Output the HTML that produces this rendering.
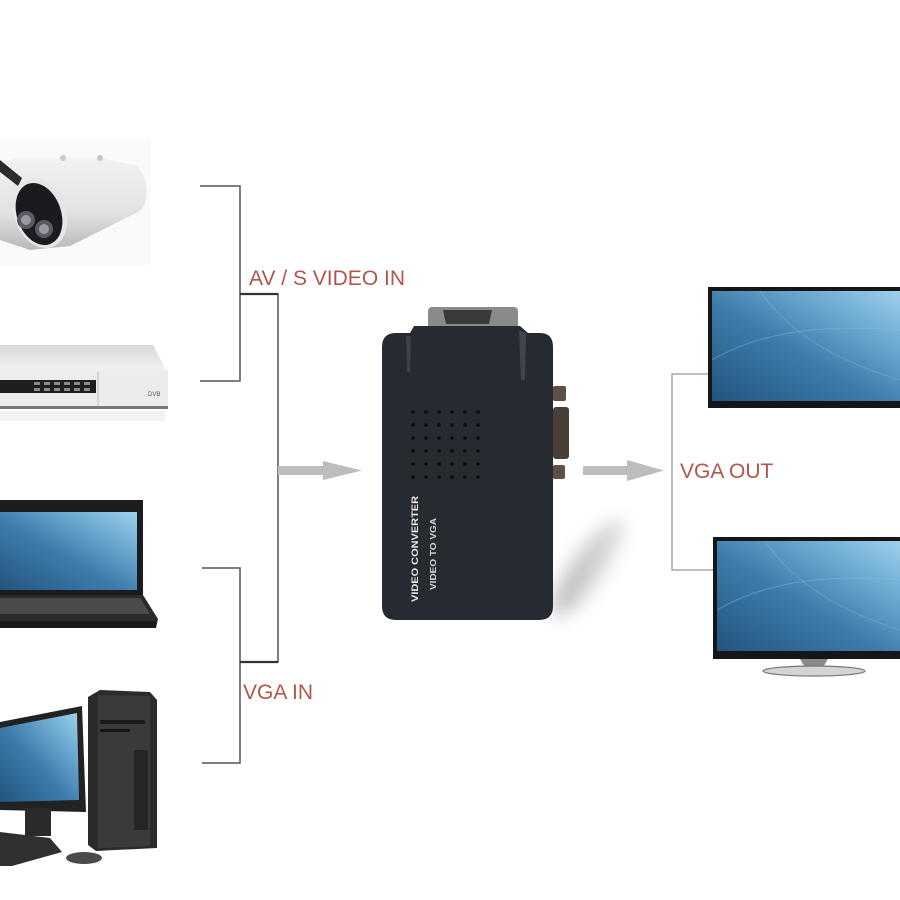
<!DOCTYPE html>
<html><head><meta charset="utf-8"><style>
html,body{margin:0;padding:0;background:#fff;}
svg{display:block;}
.lbl{font-family:"Liberation Sans",Arial,sans-serif;font-size:21px;fill:#b0564c;}
</style></head><body>
<svg width="900" height="900" viewBox="0 0 900 900" xmlns="http://www.w3.org/2000/svg">
<defs>
<linearGradient id="scr" x1="0" y1="1" x2="1" y2="0">
<stop offset="0" stop-color="#22557f"/>
<stop offset="0.45" stop-color="#3f7cab"/>
<stop offset="0.8" stop-color="#77b3d8"/>
<stop offset="1" stop-color="#9fd0ea"/>
</linearGradient>
<linearGradient id="cam" x1="0" y1="0" x2="0" y2="1">
<stop offset="0" stop-color="#f2f2f2"/>
<stop offset="0.6" stop-color="#e2e2e2"/>
<stop offset="1" stop-color="#b8b8b8"/>
</linearGradient>
<linearGradient id="dvd" x1="0" y1="0" x2="0" y2="1">
<stop offset="0" stop-color="#d8d8d8"/>
<stop offset="1" stop-color="#f0f0f0"/>
</linearGradient>
<linearGradient id="shd" x1="0" y1="1" x2="1" y2="0">
<stop offset="0" stop-color="#777"/>
<stop offset="1" stop-color="#ddd"/>
</linearGradient>
<filter id="blur" x="-80%" y="-50%" width="260%" height="200%"><feGaussianBlur stdDeviation="9"/></filter>
</defs>

<!-- Camera -->
<rect x="0" y="140" width="150" height="125" fill="#fafafa"/>
<path d="M0,162 L20,158 L100,158 L135,165 C150,175 150,205 138,212 L70,246 L30,250 L0,240 Z" fill="url(#cam)"/>
<path d="M0,160 L22,178 L18,186 L0,172 Z" fill="#2a2a2a"/>
<circle cx="63" cy="158" r="3" fill="#c8c8c8"/>
<circle cx="100" cy="158" r="3" fill="#c8c8c8"/>
<ellipse cx="40" cy="213" rx="26" ry="36" transform="rotate(-20 40 213)" fill="#e6e6e6"/>
<ellipse cx="39" cy="214" rx="22" ry="32" transform="rotate(-20 39 214)" fill="#1b1b1f"/>
<circle cx="26" cy="220" r="9" fill="#5a5a64"/>
<circle cx="26" cy="220" r="5" fill="#9a9aa5"/>
<circle cx="44" cy="229" r="9" fill="#5a5a64"/>
<circle cx="44" cy="229" r="5" fill="#9a9aa5"/>

<!-- DVD -->
<path d="M0,345 L153,345 L166,370 L0,370 Z" fill="url(#dvd)"/>
<rect x="0" y="370" width="168" height="37" fill="#ececec"/>
<rect x="0" y="380" width="96" height="13" fill="#1e1e1e"/>
<g fill="#8a8a8a">
<rect x="34" y="382" width="6" height="3"/><rect x="44" y="382" width="6" height="3"/><rect x="54" y="382" width="6" height="3"/><rect x="64" y="382" width="6" height="3"/><rect x="74" y="382" width="6" height="3"/><rect x="84" y="382" width="6" height="3"/>
<rect x="34" y="388" width="6" height="3"/><rect x="44" y="388" width="6" height="3"/><rect x="54" y="388" width="6" height="3"/><rect x="64" y="388" width="6" height="3"/><rect x="74" y="388" width="6" height="3"/><rect x="84" y="388" width="6" height="3"/>
</g>
<line x1="98" y1="372" x2="98" y2="406" stroke="#bbb" stroke-width="1"/>
<text x="148" y="396" font-family="Liberation Sans,sans-serif" font-size="6" fill="#555">DVB</text>
<rect x="0" y="406" width="168" height="3" fill="#7a7a7a"/>
<rect x="0" y="411" width="165" height="10" fill="#f2f2f2"/>

<!-- Laptop -->
<rect x="0" y="500" width="143" height="96" fill="#1c1c1e"/>
<rect x="0" y="512" width="137" height="78" fill="url(#scr)"/>
<path d="M0,595 L143,595 L158,619 L156,628 L0,628 Z" fill="#2b2b2d"/>
<path d="M0,598 L140,598 L150,614 L0,614 Z" fill="#4a4a4c"/>
<path d="M0,621 L156,621 L156,628 L0,628 Z" fill="#1a1a1a"/>

<!-- Desktop -->
<path d="M0,722 L82,706 L86,812 L0,810 Z" fill="#222"/>
<path d="M0,728 L77,713 L79,800 L0,802 Z" fill="url(#scr)"/>
<rect x="25" y="808" width="26" height="28" fill="#2a2a2a"/>
<path d="M88,697 L100,690 L150,692 L157,700 L157,848 L96,851 L88,845 Z" fill="#2b2b2d"/>
<path d="M98,695 L150,696 L150,846 L98,848 Z" fill="#3a3a3c"/>
<rect x="100" y="720" width="45" height="4" fill="#1a1a1a"/>
<rect x="100" y="729" width="30" height="3" fill="#151515"/>
<rect x="134" y="750" width="14" height="80" fill="#262626"/>
<path d="M0,832 L50,838 L62,852 L12,866 L0,866 Z" fill="#303032"/>
<ellipse cx="84" cy="858" rx="18" ry="6" fill="#4a4a4c"/>

<!-- Brackets left -->
<g stroke="#555" stroke-width="1.5" fill="none">
<polyline points="200,186 240,186 240,381 200,381"/>
<polyline points="202,568 240,568 240,763 202,763"/>
<polyline points="240,294 278,294 278,662 240,662"/>
</g>
<line x1="240" y1="294" x2="278" y2="294" stroke="#333" stroke-width="2.2"/>
<line x1="240" y1="662" x2="278" y2="662" stroke="#333" stroke-width="2.2"/>

<text class="lbl" x="249" y="285">AV / S VIDEO IN</text>
<text class="lbl" x="243" y="699">VGA IN</text>

<!-- left arrow -->
<path d="M278,466 L323,466 L323,461 L362,470.5 L323,480 L323,475 L278,475 Z" fill="#bdbdbd"/>

<!-- converter shadow -->
<ellipse cx="588" cy="568" rx="16" ry="58" transform="rotate(35 588 568)" fill="url(#shd)" opacity="0.6" filter="url(#blur)"/>

<!-- converter -->
<rect x="428" y="307" width="90" height="28" rx="4" fill="#8a8a8a"/>
<path d="M443,310 L492,310 L489,324 L446,324 Z" fill="#3a3a3a"/>
<rect x="553" y="386" width="13" height="15" rx="2" fill="#5e5048"/>
<rect x="553" y="407" width="16" height="52" rx="3" fill="#4a3f38"/>
<rect x="553" y="465" width="12" height="14" rx="2" fill="#5e5048"/>
<path d="M396,333 L410,333 L414,326 L520,326 L528,333 L540,333 Q553,333 553,347 L553,606 Q553,620 539,620 L396,620 Q382,620 382,606 L382,347 Q382,333 396,333 Z" fill="#262a31"/>
<path d="M406,336 L411,336 L410,372 L407,372 Z" fill="#3d424a"/>
<path d="M519,330 L526,333 L525,380 L521,380 Z" fill="#40454d"/>
<g fill="#0b0c0f">
<circle cx="413" cy="412" r="1.8"/><circle cx="426" cy="412" r="1.8"/><circle cx="439" cy="412" r="1.8"/><circle cx="452" cy="412" r="1.8"/><circle cx="465" cy="412" r="1.8"/><circle cx="478" cy="412" r="1.8"/>
<circle cx="413" cy="425" r="1.8"/><circle cx="426" cy="425" r="1.8"/><circle cx="439" cy="425" r="1.8"/><circle cx="452" cy="425" r="1.8"/><circle cx="465" cy="425" r="1.8"/><circle cx="478" cy="425" r="1.8"/>
<circle cx="413" cy="438" r="1.8"/><circle cx="426" cy="438" r="1.8"/><circle cx="439" cy="438" r="1.8"/><circle cx="452" cy="438" r="1.8"/><circle cx="465" cy="438" r="1.8"/><circle cx="478" cy="438" r="1.8"/>
<circle cx="413" cy="451" r="1.8"/><circle cx="426" cy="451" r="1.8"/><circle cx="439" cy="451" r="1.8"/><circle cx="452" cy="451" r="1.8"/><circle cx="465" cy="451" r="1.8"/><circle cx="478" cy="451" r="1.8"/>
<circle cx="413" cy="464" r="1.8"/><circle cx="426" cy="464" r="1.8"/><circle cx="439" cy="464" r="1.8"/><circle cx="452" cy="464" r="1.8"/><circle cx="465" cy="464" r="1.8"/><circle cx="478" cy="464" r="1.8"/>
<circle cx="413" cy="477" r="1.8"/><circle cx="426" cy="477" r="1.8"/><circle cx="439" cy="477" r="1.8"/><circle cx="452" cy="477" r="1.8"/><circle cx="465" cy="477" r="1.8"/><circle cx="478" cy="477" r="1.8"/>
</g>
<text transform="translate(418,602) rotate(-90)" font-family="Liberation Sans,sans-serif" font-weight="bold" font-size="9" fill="#e8e8e8" textLength="106" lengthAdjust="spacingAndGlyphs">VIDEO CONVERTER</text>
<text transform="translate(436,590) rotate(-90)" font-family="Liberation Sans,sans-serif" font-weight="bold" font-size="8" fill="#d8d8d8" textLength="72" lengthAdjust="spacingAndGlyphs">VIDEO TO VGA</text>

<!-- right arrow -->
<path d="M583,466 L627,466 L627,460 L664,470.5 L627,481 L627,475 L583,475 Z" fill="#bdbdbd"/>

<!-- right bracket -->
<polyline points="708,374 672,374 672,570 713,570" stroke="#a8a8a8" stroke-width="1.5" fill="none"/>
<text class="lbl" x="680" y="478">VGA OUT</text>

<!-- Monitor 1 -->
<rect x="708" y="287" width="192" height="121" fill="#161616"/>
<rect x="712" y="291" width="188" height="110" fill="url(#scr)"/>
<path d="M712,360 Q780,320 900,330" stroke="#8fc0de" stroke-width="1" fill="none" opacity="0.4"/>
<path d="M760,291 Q800,350 900,380" stroke="#8fc0de" stroke-width="1" fill="none" opacity="0.35"/>

<!-- Monitor 2 -->
<rect x="713" y="537" width="187" height="122" fill="#161616"/>
<rect x="717" y="541" width="183" height="110" fill="url(#scr)"/>
<path d="M717,610 Q785,570 900,580" stroke="#8fc0de" stroke-width="1" fill="none" opacity="0.4"/>
<path d="M765,541 Q805,600 900,630" stroke="#8fc0de" stroke-width="1" fill="none" opacity="0.35"/>
<path d="M800,659 L828,659 L822,669 L806,669 Z" fill="#8a8a8a"/>
<ellipse cx="814" cy="671" rx="51" ry="5" fill="#d4d4d4" stroke="#777" stroke-width="1.2"/>
</svg>
</body></html>
